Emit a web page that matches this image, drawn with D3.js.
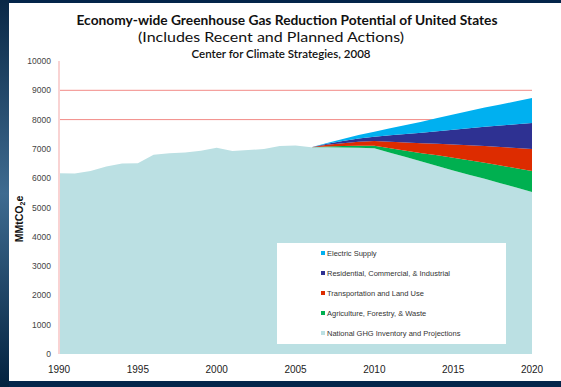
<!DOCTYPE html>
<html>
<head>
<meta charset="utf-8">
<script src="https://cdn.jsdelivr.net/npm/d3@7"></script>
<style>
  body { margin: 0; background: #fff; }
  svg { display: block; }
</style>
</head>
<body>
<div id="canvas"></div>
<script>
"use strict";

// Canvas setup
let svgWidth = 561;
let svgHeight = 387;

// Data (MMtCO2e)
let years = d3.range(1990, 2021);
let nationalGHG = [6170, 6160, 6250, 6400, 6500, 6510, 6800, 6850, 6880, 6940,
                   7040, 6930, 6960, 7000, 7100, 7120, 7060, 7060, 7050, 7040,
                   7020, 6870, 6720, 6570, 6420, 6260, 6120, 5980, 5830, 5680, 5530];
// reduction wedges start in 2006
let wedgeYears = d3.range(2006, 2021);
let agriculture = [0, 20, 45, 70, 90, 155, 220, 285, 360, 440, 495, 550, 605, 660, 717];
let transportation = [0, 60, 100, 135, 160, 218, 276, 334, 392, 450, 510, 570, 630, 690, 750];
let residential = [0, 35, 75, 110, 145, 220, 290, 360, 430, 505, 580, 655, 730, 810, 887];
let electric = [0, 30, 70, 120, 170, 240, 310, 380, 450, 520, 590, 655, 720, 790, 853];

let seriesKeys = ["national", "agriculture", "transportation", "residential", "electric"];
let legendNames = {
  electric: "Electric Supply",
  residential: "Residential, Commercial, & Industrial",
  transportation: "Transportation and Land Use",
  agriculture: "Agriculture, Forestry, & Waste",
  national: "National GHG Inventory and Projections"
};
let colors = {
  national: "#bbe0e3",
  agriculture: "#00b050",
  transportation: "#dd2c00",
  residential: "#2e3192",
  electric: "#00b0f0"
};
let yTicks = d3.range(0, 10001, 1000);
let xTicks = [1990, 1995, 2000, 2005, 2010, 2015, 2020];

// build table for the stack
let table = years.map(function(y, i) {
  let j = wedgeYears.indexOf(y);
  return {
    year: y,
    national: nationalGHG[i],
    agriculture: j < 0 ? 0 : agriculture[j],
    transportation: j < 0 ? 0 : transportation[j],
    residential: j < 0 ? 0 : residential[j],
    electric: j < 0 ? 0 : electric[j]
  };
});
let stacked = d3.stack().keys(seriesKeys)(table);

let svg = d3.select("#canvas")
  .append("svg")
  .attr("width", svgWidth)
  .attr("height", svgHeight);

// Dark frame
let defs = svg.append("defs");
let grad = defs.append("linearGradient")
  .attr("id", "frameGrad")
  .attr("x1", 0).attr("y1", 0).attr("x2", 0).attr("y2", 1);
grad.append("stop").attr("offset", "0%").attr("stop-color", "#0a2846");
grad.append("stop").attr("offset", "50%").attr("stop-color", "#3e6b90");
grad.append("stop").attr("offset", "100%").attr("stop-color", "#03223f");

svg.append("rect").attr("width", svgWidth).attr("height", svgHeight).attr("fill", "#04254a");
svg.append("rect").attr("width", 9).attr("height", svgHeight).attr("fill", "url(#frameGrad)");
svg.append("rect")
  .attr("x", 9).attr("y", 3)
  .attr("width", svgWidth - 9).attr("height", 378)
  .attr("fill", "#ffffff");

// Scales
let xScale = d3.scaleLinear().domain([1990, 2020]).range([59, 532]);
let yScale = d3.scaleLinear().domain([0, 10000]).range([354, 61]);

// Gridlines (only the ones above the data are visible)
svg.selectAll(".grid")
  .data([8000, 9000])
  .enter()
  .append("line")
  .attr("x1", xScale(1990)).attr("x2", xScale(2020))
  .attr("y1", function(d){ return yScale(d); })
  .attr("y2", function(d){ return yScale(d); })
  .attr("stroke", "#f28a86")
  .attr("stroke-width", 1);

// Stacked areas
let area = d3.area()
  .x(function(d){ return xScale(d.data.year); })
  .y0(function(d){ return yScale(d[0]); })
  .y1(function(d){ return yScale(d[1]); });

svg.selectAll(".layer")
  .data(stacked)
  .enter()
  .append("path")
  .attr("fill", function(d){ return colors[d.key]; })
  .attr("d", function(d){
    if (d.key === "national") return area(d);
    return area(d.filter(function(p){ return p.data.year >= 2006; }));
  });

// Y axis line
svg.append("line")
  .attr("x1", 59).attr("x2", 59)
  .attr("y1", yScale(10000)).attr("y2", yScale(0))
  .attr("stroke", "#f9d3d3")
  .attr("stroke-width", 2);

// Y tick labels
svg.selectAll(".ylab")
  .data(yTicks)
  .enter()
  .append("text")
  .attr("x", 51)
  .attr("y", function(d){ return yScale(d) + 3; })
  .attr("text-anchor", "end")
  .style("font-family", "Liberation Sans, Arial, sans-serif")
  .style("font-size", "8.5px")
  .style("fill", "#444")
  .text(function(d){ return d; });

// X tick labels
svg.selectAll(".xlab")
  .data(xTicks)
  .enter()
  .append("text")
  .attr("x", function(d){ return xScale(d); })
  .attr("y", 373)
  .attr("text-anchor", "middle")
  .style("font-family", "Liberation Sans, Arial, sans-serif")
  .style("font-size", "10px")
  .style("fill", "#222")
  .text(function(d){ return d; });

// Y axis title
let yTitle = svg.append("text")
  .attr("transform", "translate(23,219) rotate(-90)")
  .attr("text-anchor", "middle")
  .style("font-family", "Liberation Sans, Arial, sans-serif")
  .style("font-size", "10.5px")
  .style("font-weight", "700")
  .style("fill", "#111");
yTitle.append("tspan").text("MMtCO");
yTitle.append("tspan").attr("dy", 2).style("font-size", "7px").text("2");
yTitle.append("tspan").attr("dy", -2).text("e");

// Titles
svg.append("text")
  .attr("x", 287).attr("y", 25)
  .attr("text-anchor", "middle")
  .attr("textLength", 421)
  .attr("lengthAdjust", "spacingAndGlyphs")
  .style("font-family", "Lato, sans-serif")
  .style("font-size", "13.5px")
  .style("font-weight", "700")
  .style("fill", "#111")
  .text("Economy-wide Greenhouse Gas Reduction Potential of United States");
svg.append("text")
  .attr("x", 271).attr("y", 42)
  .attr("text-anchor", "middle")
  .attr("textLength", 266)
  .attr("lengthAdjust", "spacingAndGlyphs")
  .style("font-family", "Lato, sans-serif")
  .style("font-size", "14px")
  .style("fill", "#111")
  .text("(Includes Recent and Planned Actions)");
svg.append("text")
  .attr("x", 281).attr("y", 58)
  .attr("text-anchor", "middle")
  .attr("textLength", 179)
  .attr("lengthAdjust", "spacingAndGlyphs")
  .style("font-family", "Lato, sans-serif")
  .style("font-size", "10.5px")
  .style("font-weight", "600")
  .style("fill", "#111")
  .text("Center for Climate Strategies, 2008");

// Legend
let legend = svg.append("g");
legend.append("rect")
  .attr("x", 277).attr("y", 243)
  .attr("width", 229).attr("height", 101)
  .attr("fill", "#ffffff");

let legendOrder = ["electric", "residential", "transportation", "agriculture", "national"];
for (let i = 0; i < legendOrder.length; i++) {
  let k = legendOrder[i];
  legend.append("rect")
    .attr("x", 321).attr("y", 251 + i * 20)
    .attr("width", 4).attr("height", 4)
    .attr("fill", colors[k]);
  legend.append("text")
    .attr("x", 327).attr("y", 256 + i * 20)
    .style("font-family", "Liberation Sans, Arial, sans-serif")
    .style("font-size", "7.5px")
    .style("fill", "#333")
    .text(legendNames[k]);
}
</script>
</body>
</html>
